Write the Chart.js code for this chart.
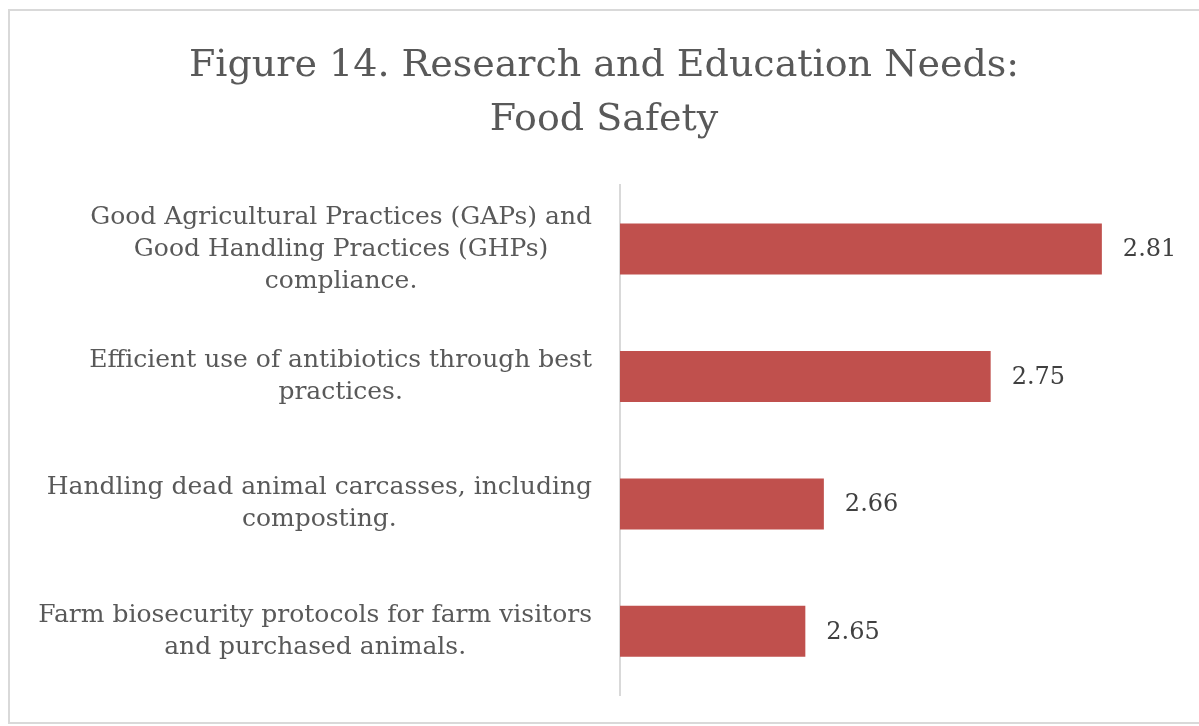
<!DOCTYPE html>
<html>
<head>
<meta charset="utf-8">
<script src="https://cdn.jsdelivr.net/npm/chart.js@4"></script>
<style>
  html, body { margin: 0; padding: 0; background: #fff; overflow: hidden; }
  #frame { position: absolute; left: 8px; top: 9px; width: 1300px; height: 715px; box-sizing: border-box; border: 2px solid #d9d9d9; }
  #wrap { position: absolute; left: 0; top: 0; width: 1199px; height: 726px; }
</style>
</head>
<body>
<div id="frame"></div>
<div id="wrap"><canvas id="chart"></canvas></div>
<script>
const titleLines = ['Figure 14. Research and Education Needs:', 'Food Safety'];
const categories = [
  ['Good Agricultural Practices (GAPs) and', 'Good Handling Practices (GHPs)', 'compliance.'],
  ['Efficient use of antibiotics through best', 'practices.'],
  ['Handling dead animal carcasses, including', 'composting.'],
  ['Farm biosecurity protocols for farm visitors', 'and purchased animals.'],
];
const scores = [2.81, 2.75, 2.66, 2.65];
const axisMin = 2.55;
const axisMax = 2.85;

const FONT = "'DejaVu Serif', serif";
const textGrey = '#595959';

// category labels: each block right-aligned to the axis, lines centred inside it
const blockLabels = {
  id: 'blockLabels',
  afterDraw(chart) {
    const { ctx, scales: { y } } = chart;
    ctx.save();
    ctx.font = `25px ${FONT}`;
    ctx.fillStyle = textGrey;
    ctx.textAlign = 'center';
    ctx.textBaseline = 'middle';
    const lh = 32;
    categories.forEach((lines, i) => {
      const w = Math.max(...lines.map((l) => ctx.measureText(l).width));
      const cx = chart.chartArea.left - 28 - w / 2;
      const cy = y.getPixelForValue(i);
      lines.forEach((l, j) => ctx.fillText(l, cx, cy + (j - (lines.length - 1) / 2) * lh));
    });
    ctx.restore();
  },
};

// value labels just past the bar ends
const valueLabels = {
  id: 'valueLabels',
  afterDatasetsDraw(chart) {
    const { ctx } = chart;
    const meta = chart.getDatasetMeta(0);
    ctx.save();
    ctx.font = `24px ${FONT}`;
    ctx.fillStyle = '#404040';
    ctx.textAlign = 'left';
    ctx.textBaseline = 'middle';
    meta.data.forEach((bar, i) => {
      ctx.fillText(scores[i].toFixed(2), bar.x + 21, bar.y + 1);
    });
    ctx.restore();
  },
};

new Chart(document.getElementById('chart'), {
  type: 'bar',
  data: {
    labels: categories.map((c) => c.join(' ')),
    datasets: [{
      data: scores,
      backgroundColor: '#c0504d',
      barPercentage: 0.8,
      categoryPercentage: 0.5,
    }],
  },
  options: {
    indexAxis: 'y',
    responsive: true,
    maintainAspectRatio: false,
    animation: false,
    layout: { padding: { left: 32, right: 23, top: 0, bottom: 31 } },
    plugins: {
      legend: { display: false },
      tooltip: { enabled: false },
      title: {
        display: true,
        text: titleLines,
        color: textGrey,
        font: { family: FONT, size: 38, weight: 'normal', lineHeight: 1.4 },
        padding: { top: 40, bottom: 39 },
      },
    },
    scales: {
      x: { display: false, min: axisMin, max: axisMax },
      y: {
        grid: { display: false },
        border: { display: true, color: '#d9d9d9', width: 2 },
        ticks: { display: false },
        afterFit(scale) { scale.width = 588; },
      },
    },
  },
  plugins: [blockLabels, valueLabels],
});
</script>
</body>
</html>
